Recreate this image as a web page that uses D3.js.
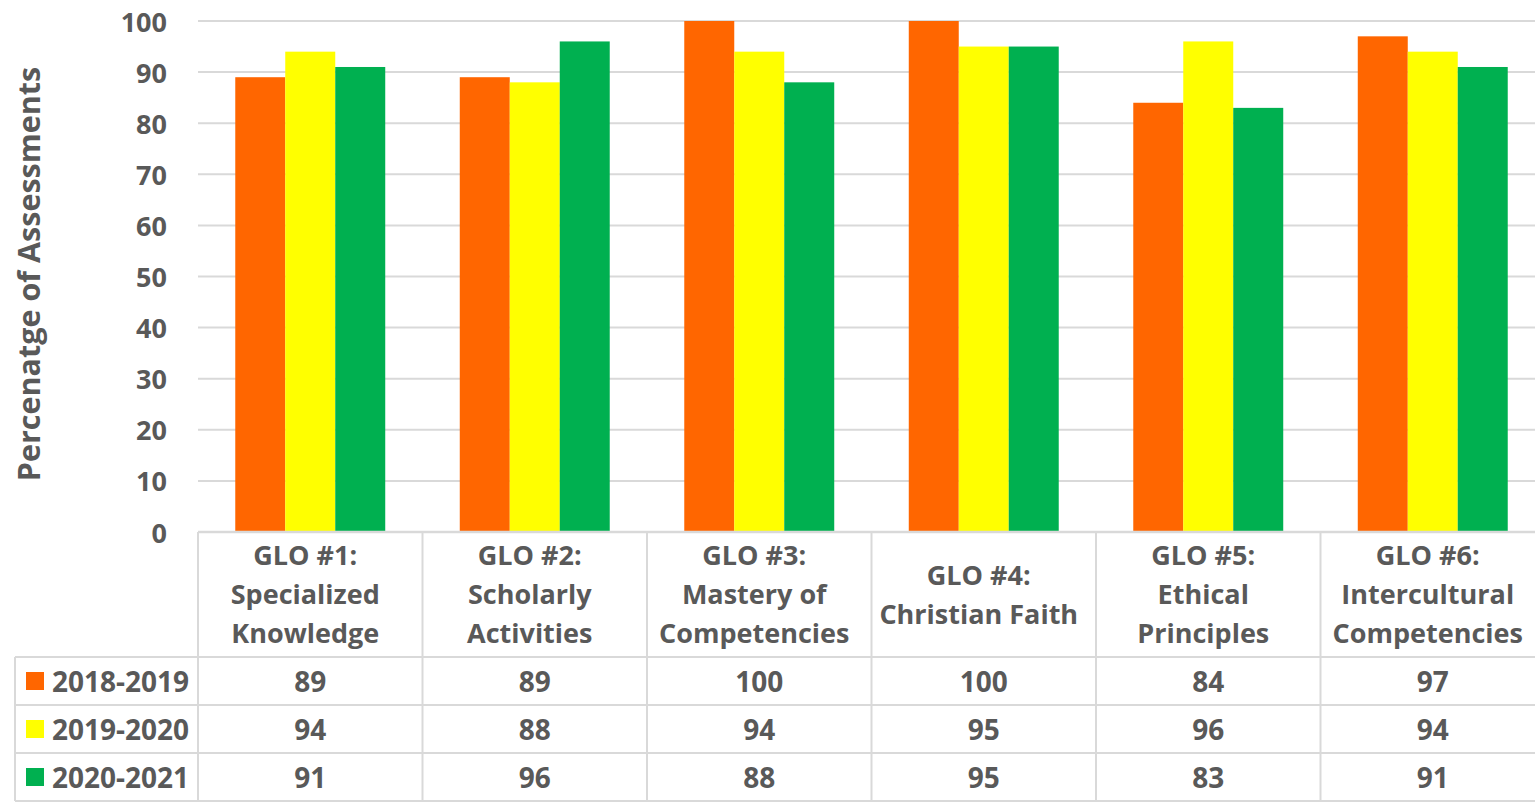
<!DOCTYPE html>
<html>
<head>
<meta charset="utf-8">
<script src="https://cdn.jsdelivr.net/npm/d3@7"></script>
<style>
  html, body { margin: 0; padding: 0; background: #fff; overflow: hidden; }
  svg text { font-family: "Open Sans", "Liberation Sans", sans-serif; font-weight: 700; fill: #595959; }
</style>
</head>
<body>
<svg id="chart" width="1535" height="802"></svg>
<script>
// Graduate Learning Outcomes, with line breaks used in the data table header
const categories = [
  "GLO #1:\nSpecialized\nKnowledge",
  "GLO #2:\nScholarly\nActivities",
  "GLO #3:\nMastery of\nCompetencies",
  "GLO #4:\nChristian Faith",
  "GLO #5:\nEthical\nPrinciples",
  "GLO #6:\nIntercultural\nCompetencies"
];
const seriesNames = ["2018-2019", "2019-2020", "2020-2021"];
const values2018 = [89, 89, 100, 100, 84, 97];
const values2019 = [94, 88, 94, 95, 96, 94];
const values2020 = [91, 96, 88, 95, 83, 91];
const seriesColors = ["#FF6600", "#FFFF00", "#00B050"];
const yTicks = [0, 10, 20, 30, 40, 50, 60, 70, 80, 90, 100];
const yTitle = "Percenatge of Assessments";

const seriesValues = [values2018, values2019, values2020];

const svg = d3.select("#chart");
const gridColor = "#D9D9D9";

const plotLeft = 198, plotRight = 1545, plotTop = 21, plotBottom = 532;
const headerBottom = 657, rowH = 48, tableLeft = 15;

const y = d3.scaleLinear().domain([0, 100]).range([plotBottom, plotTop]);
const x0 = d3.scaleBand().domain(categories).range([plotLeft, plotRight])
  .paddingInner(0.332).paddingOuter(0.166);
const x1 = d3.scaleBand().domain(seriesNames).range([0, x0.bandwidth()]).padding(0);
const cellLeft = c => x0(c) - (x0.step() - x0.bandwidth()) / 2;

// Gridlines
svg.append("g").selectAll("line").data(yTicks.filter(t => t > 0)).join("line")
  .attr("x1", plotLeft).attr("x2", plotRight)
  .attr("y1", d => y(d)).attr("y2", d => y(d))
  .attr("stroke", gridColor).attr("stroke-width", 2);

// Y tick labels
svg.append("g").selectAll("text").data(yTicks).join("text")
  .attr("x", 167).attr("y", d => y(d))
  .attr("text-anchor", "end").attr("dominant-baseline", "central")
  .style("font-size", "27px")
  .text(d => d);

// Y axis title
svg.append("text")
  .attr("transform", "translate(28,274) rotate(-90)")
  .attr("text-anchor", "middle").attr("dominant-baseline", "central")
  .style("font-size", "30.5px")
  .text(yTitle);

// Bars
const groups = svg.append("g").selectAll("g").data(categories).join("g")
  .attr("transform", c => `translate(${x0(c)},0)`);
groups.selectAll("rect")
  .data((c, i) => seriesNames.map((s, j) => ({ s, j, v: seriesValues[j][i] })))
  .join("rect")
  .attr("x", d => x1(d.s)).attr("width", x1.bandwidth())
  .attr("y", d => y(d.v)).attr("height", d => y(0) - y(d.v))
  .attr("fill", d => seriesColors[d.j]);

// Data table
const table = svg.append("g");
const tableBottom = headerBottom + rowH * seriesNames.length;

// Horizontal rules
table.append("line").attr("x1", plotLeft).attr("x2", plotRight)
  .attr("y1", plotBottom).attr("y2", plotBottom)
  .attr("stroke", gridColor).attr("stroke-width", 2.5);
d3.range(seriesNames.length + 1).forEach(k => {
  const yy = headerBottom + k * rowH;
  table.append("line").attr("x1", tableLeft).attr("x2", plotRight)
    .attr("y1", yy).attr("y2", yy)
    .attr("stroke", gridColor).attr("stroke-width", 2);
});
// Vertical rules
table.append("line").attr("x1", tableLeft).attr("x2", tableLeft)
  .attr("y1", headerBottom).attr("y2", tableBottom)
  .attr("stroke", gridColor).attr("stroke-width", 2);
categories.forEach(c => {
  table.append("line").attr("x1", cellLeft(c)).attr("x2", cellLeft(c))
    .attr("y1", plotBottom).attr("y2", tableBottom)
    .attr("stroke", gridColor).attr("stroke-width", 2);
});

// Header labels
const lineH = 39;
categories.forEach(c => {
  const lines = c.split("\n");
  const cx = x0(c) + x0.bandwidth() / 2 - 5;
  const midY = (plotBottom + headerBottom) / 2 - 1;
  const t = table.append("text").attr("text-anchor", "middle").style("font-size", "27px");
  lines.forEach((ln, k) => {
    t.append("tspan").attr("x", cx)
      .attr("y", midY + (k - (lines.length - 1) / 2) * lineH)
      .attr("dominant-baseline", "central")
      .text(ln);
  });
});

// Row labels with legend keys, and values
seriesNames.forEach((s, j) => {
  const cy = headerBottom + rowH * j + rowH / 2;
  table.append("rect").attr("x", 26).attr("y", cy - 9).attr("width", 18).attr("height", 18)
    .attr("fill", seriesColors[j]);
  table.append("text").attr("x", 52).attr("y", cy)
    .attr("dominant-baseline", "central").style("font-size", "28px").text(s);
  categories.forEach((c, i) => {
    table.append("text").attr("x", x0(c) + x0.bandwidth() / 2).attr("y", cy)
      .attr("text-anchor", "middle").attr("dominant-baseline", "central")
      .style("font-size", "28px").text(seriesValues[j][i]);
  });
});
</script>
</body>
</html>
